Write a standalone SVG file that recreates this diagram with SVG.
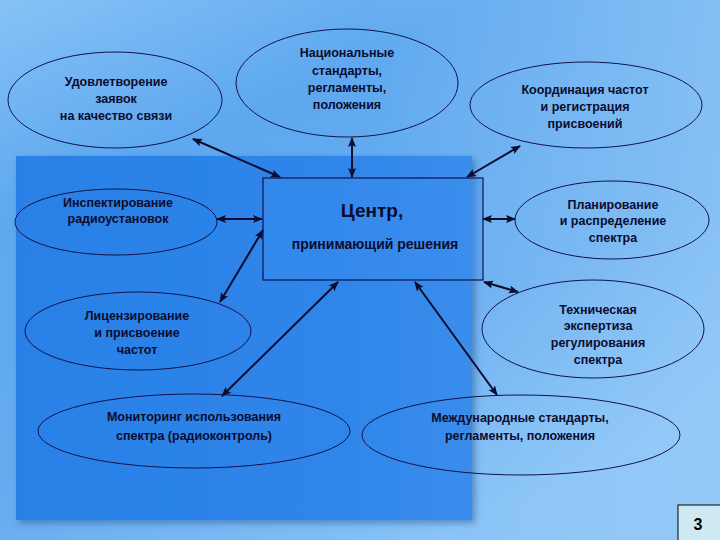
<svg xmlns="http://www.w3.org/2000/svg" width="720" height="540" viewBox="0 0 720 540">
<defs>
<linearGradient id="bg" x1="0" y1="0" x2="0.6" y2="1">
<stop offset="0" stop-color="#86c2f6"/>
<stop offset="0.3" stop-color="#5ea8ef"/>
<stop offset="0.7" stop-color="#66acf0"/>
<stop offset="1" stop-color="#86c2f6"/>
</linearGradient>
<linearGradient id="panel" x1="0" y1="0" x2="1" y2="0">
<stop offset="0" stop-color="#2a80e6"/>
<stop offset="0.7" stop-color="#2e85ea"/>
<stop offset="1" stop-color="#3a8deb"/>
</linearGradient>
<linearGradient id="fadeR" x1="0" y1="0" x2="1" y2="0">
<stop offset="0.5" stop-color="#a0d0f8" stop-opacity="0"/>
<stop offset="1" stop-color="#a0d0f8" stop-opacity="0.55"/>
</linearGradient>
<filter id="sh" x="-5%" y="-5%" width="115%" height="115%">
<feDropShadow dx="3" dy="3" stdDeviation="3" flood-color="#1a4f90" flood-opacity="0.5"/>
</filter>
<marker id="ah" viewBox="0 0 10 10" refX="9" refY="5" markerWidth="5" markerHeight="5" orient="auto-start-reverse" markerUnits="strokeWidth">
<path d="M0,1 L10,5 L0,9 L2,5 Z" fill="#0c0c2e"/>
</marker>
<style>
.el{fill:none;stroke:#12124a;stroke-width:1}
.t{font-family:"Liberation Sans",Arial,sans-serif;font-weight:bold;font-size:12.5px;fill:#0c0c2e;text-anchor:middle}
.c{stroke:#0c0c2e;stroke-width:2;fill:none;marker-start:url(#ah);marker-end:url(#ah)}
</style>
</defs>
<rect width="720" height="540" fill="url(#bg)"/>
<rect x="0" y="0" width="720" height="540" fill="url(#fadeR)"/>
<rect x="16" y="156" width="456" height="364" fill="url(#panel)" filter="url(#sh)"/>

<g id="connectors">
<line class="c" x1="193" y1="139" x2="280" y2="177"/>
<line class="c" x1="352" y1="138" x2="352" y2="177"/>
<line class="c" x1="520" y1="146" x2="467" y2="177"/>
<line class="c" x1="217" y1="219" x2="262" y2="219"/>
<line class="c" x1="483" y1="219" x2="515" y2="219"/>
<line class="c" x1="220" y1="302" x2="263" y2="230"/>
<line class="c" x1="222" y1="396" x2="338" y2="282"/>
<line class="c" x1="484" y1="282" x2="518" y2="292"/>
<line class="c" x1="415" y1="282" x2="497" y2="395"/>
</g>

<g id="center">
<rect x="263" y="178" width="220" height="102" fill="#3c8ef0" fill-opacity="0.35" stroke="#12124a" stroke-width="1.2"/>
<text x="372" y="217" font-family="Liberation Sans,Arial,sans-serif" font-weight="bold" font-size="19" fill="#0c0c2e" text-anchor="middle">Центр,</text>
<text x="375" y="249" font-family="Liberation Sans,Arial,sans-serif" font-weight="bold" font-size="14" fill="#0c0c2e" text-anchor="middle">принимающий решения</text>
</g>

<g id="n1">
<ellipse class="el" cx="115" cy="100" rx="107" ry="48"/>
<text class="t" x="116" y="86">Удовлетворение</text>
<text class="t" x="116" y="103">заявок</text>
<text class="t" x="116" y="120">на качество связи</text>
</g>
<g id="n2">
<ellipse class="el" cx="347" cy="83" rx="111" ry="54"/>
<text class="t" x="347" y="57">Национальные</text>
<text class="t" x="347" y="75">стандарты,</text>
<text class="t" x="347" y="92">регламенты,</text>
<text class="t" x="347" y="109">положения</text>
</g>
<g id="n3">
<ellipse class="el" cx="586" cy="105" rx="116" ry="43"/>
<text class="t" x="585" y="94">Координация частот</text>
<text class="t" x="585" y="111">и регистрация</text>
<text class="t" x="585" y="128">присвоений</text>
</g>
<g id="n4">
<ellipse class="el" cx="116" cy="222" rx="101" ry="33"/>
<text class="t" x="118" y="207">Инспектирование</text>
<text class="t" x="118" y="223">радиоустановок</text>
</g>
<g id="n5">
<ellipse class="el" cx="612" cy="220" rx="97" ry="39"/>
<text class="t" x="613" y="209">Планирование</text>
<text class="t" x="613" y="225">и распределение</text>
<text class="t" x="613" y="242">спектра</text>
</g>
<g id="n6">
<ellipse class="el" cx="593" cy="329" rx="111" ry="49"/>
<text class="t" x="598" y="314">Техническая</text>
<text class="t" x="598" y="330">экспертиза</text>
<text class="t" x="598" y="347">регулирования</text>
<text class="t" x="598" y="364">спектра</text>
</g>
<g id="n7">
<ellipse class="el" cx="138" cy="331" rx="113" ry="39"/>
<text class="t" x="137" y="320">Лицензирование</text>
<text class="t" x="137" y="337">и присвоение</text>
<text class="t" x="137" y="354">частот</text>
</g>
<g id="n8">
<ellipse class="el" cx="194" cy="431" rx="156" ry="37"/>
<text class="t" x="194" y="421">Мониторинг использования</text>
<text class="t" x="194" y="440">спектра (радиоконтроль)</text>
</g>
<g id="n9">
<ellipse class="el" cx="521" cy="435" rx="159" ry="40"/>
<text class="t" x="520" y="422">Международные стандарты,</text>
<text class="t" x="520" y="440">регламенты, положения</text>
</g>

<g id="page">
<rect x="678" y="505" width="44" height="37" fill="#cfe9f2" stroke="#000" stroke-width="1"/>
<text x="698" y="530" font-family="Liberation Sans,Arial,sans-serif" font-weight="bold" font-size="16" fill="#000" text-anchor="middle">3</text>
</g>
</svg>
